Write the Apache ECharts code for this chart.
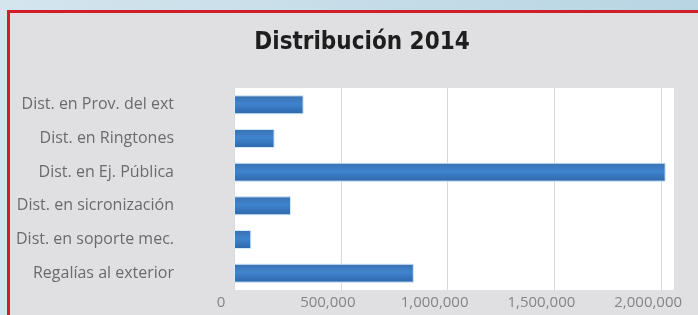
<!DOCTYPE html>
<html>
<head>
<meta charset="utf-8">
<script src="https://cdn.jsdelivr.net/npm/echarts@6/dist/echarts.min.js"></script>
<style>
  html, body { margin: 0; padding: 0; width: 698px; height: 315px; overflow: hidden; }
  body { background: linear-gradient(to right, #d4e5ee, #b8d5e3); }
  #frame {
    position: absolute; left: 7px; top: 10px; width: 700px; height: 320px;
    border: 3px solid #d01f2b; background: #e0e0e2;
  }
  #chart { position: absolute; left: 0; top: 0; width: 698px; height: 315px; }
</style>
</head>
<body>
<div id="frame"></div>
<div id="chart"></div>
<script>
const title = 'Distribución 2014'
// bottom to top, as ECharts draws a category y axis
const categories = [
  'Regalías al exterior',
  'Dist. en soporte mec.',
  'Dist. en sicronización',
  'Dist. en Ej. Pública',
  'Dist. en Ringtones',
  'Dist. en Prov. del ext',
]
const values = [842000, 81000, 267000, 2021000, 190000, 326000]
const xTicks = [0, 500000, 1000000, 1500000, 2000000]

const chart = echarts.init(document.getElementById('chart'), null, { renderer: 'canvas' })

chart.setOption({
  backgroundColor: 'transparent',
  animation: false,
  title: {
    text: title,
    left: 357,
    textAlign: 'center',
    top: 26,
    textStyle: {
      fontFamily: '"DejaVu Sans Condensed", "DejaVu Sans"',
      fontWeight: 'bold',
      fontSize: 24,
      color: '#1e1e1e',
    },
  },
  grid: { left: 234, right: 24, top: 88, bottom: 25, backgroundColor: '#ffffff', show: true, borderWidth: 0 },
  xAxis: {
    type: 'value',
    min: 0,
    max: 2060000,
    interval: 500000,
    axisLine: { show: false },
    axisTick: { show: false },
    splitLine: { showMaxLine: false, lineStyle: { color: '#d9d9d9', width: 1 } },
    axisLabel: {
      showMaxLabel: false,
      margin: 5,
      fontFamily: 'Open Sans',
      fontSize: 15,
      color: '#858585',
      padding: [0, 26, 0, 0],
      formatter: (v) => (xTicks.includes(v) ? v.toLocaleString('en-US') : ''),
    },
  },
  yAxis: {
    type: 'category',
    data: categories,
    axisLine: { show: false },
    axisTick: { show: false },
    axisLabel: {
      margin: 60,
      fontFamily: 'Open Sans',
      fontSize: 16,
      color: '#6b6b6b',
    },
  },
  series: [
    {
      type: 'bar',
      data: values,
      barWidth: 19,
      itemStyle: {
        color: {
          type: 'linear', x: 0, y: 0, x2: 0, y2: 1,
          colorStops: [
            { offset: 0, color: '#3a70b0' },
            { offset: 0.45, color: '#3f84cf' },
            { offset: 1, color: '#2d67aa' },
          ],
        },
        borderColor: '#d6ecfa',
        borderWidth: 1,
      },
    },
  ],
})
</script>
</body>
</html>
